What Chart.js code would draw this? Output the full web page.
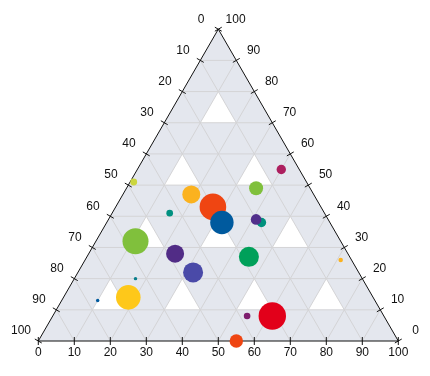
<!DOCTYPE html>
<html>
<head>
<meta charset="utf-8">
<script src="https://cdn.jsdelivr.net/npm/chart.js@4"></script>
<style>
  html, body { margin: 0; padding: 0; background: #fff; }
</style>
</head>
<body>
<canvas id="ternary" width="430" height="376"></canvas>
<script>
// ternary components for each bubble (bottom + right + left = 100)
const bottomVals = [40, 1, 36, 19, 27, 16, 32, 43, 41, 11, 24, 45, 71, 32, 17, 10, 18, 54, 61, 55];
const rightVals  = [55, 51, 49, 47, 43, 41, 38, 38, 39, 32, 28, 27, 26, 22, 20, 13, 14, 8, 8, 0];
const leftVals   = [5, 48, 15, 34, 30, 43, 30, 19, 20, 57, 48, 28, 3, 46, 63, 77, 68, 38, 31, 45];
const sizes      = [22, 12, 49, 81, 177, 11, 137, 22, 28, 169, 81, 100, 5, 100, 3, 3, 151, 11, 188, 45];
const colors = ['#ad1f5f', '#cbd63f', '#80c03c', '#fbb21f', '#ef4512', '#009080', '#005a9e',
  '#00917d', '#512f8b', '#80c03c', '#512c86', '#00a05a', '#fbb21f', '#4a4aa8', '#0a7e8c',
  '#005a9e', '#fec81a', '#7e1e6e', '#e2001a', '#ef4512'];
const tickVals = [0, 10, 20, 30, 40, 50, 60, 70, 80, 90, 100];

const H = Math.sqrt(3) / 2;

// bottom/right -> cartesian
function toXY(bottom, right) {
  return { x: bottom + right / 2, y: right * H };
}

const points = bottomVals.map((b, i) => {
  const p = toXY(b, rightVals[i]);
  return { x: p.x, y: p.y, r: Math.sqrt(sizes[i]), left: leftVals[i] };
});

const ternaryFrame = {
  id: 'ternaryFrame',
  beforeDatasetsDraw(chart) {
    const ctx = chart.ctx;
    const xs = chart.scales.x, ys = chart.scales.y;
    const px = (b, r) => {
      const p = toXY(b, r);
      return [xs.getPixelForValue(p.x), ys.getPixelForValue(p.y)];
    };
    const tri = (pts, fill) => {
      ctx.beginPath();
      ctx.moveTo(pts[0][0], pts[0][1]);
      ctx.lineTo(pts[1][0], pts[1][1]);
      ctx.lineTo(pts[2][0], pts[2][1]);
      ctx.closePath();
      ctx.fillStyle = fill;
      ctx.fill();
    };
    const line = (p1, p2) => {
      ctx.beginPath();
      ctx.moveTo(p1[0], p1[1]);
      ctx.lineTo(p2[0], p2[1]);
      ctx.stroke();
    };

    ctx.save();
    // background
    tri([px(0, 0), px(100, 0), px(0, 100)], '#e4e7ee');

    // white triangles on odd rows
    for (let row = 1; row <= 10; row++) {
      if (row % 2 == 0) continue;
      const b0 = 100 - row * 10;
      for (let j = 1; j < row; j += 2) {
        tri([px(j * 10, b0), px(j * 10 + 10, b0), px(j * 10, b0 + 10)], '#ffffff');
      }
    }

    // grid
    ctx.strokeStyle = '#d4d4d6';
    ctx.lineWidth = 1;
    for (let k = 10; k < 100; k += 10) {
      line(px(0, k), px(100 - k, k));   // right const
      line(px(k, 0), px(k, 100 - k));   // bottom const
      line(px(100 - k, 0), px(0, 100 - k)); // left const
    }

    // frame
    ctx.strokeStyle = '#111';
    ctx.lineWidth = 1;
    const A = px(0, 0), B = px(100, 0), C = px(0, 100);
    line(A, B);
    line(B, C);
    line(C, A);

    // ticks + labels
    ctx.font = '12px "Liberation Sans", Arial, sans-serif';
    ctx.fillStyle = '#111';
    ctx.textAlign = 'center';
    ctx.textBaseline = 'middle';
    const t = 4, d = 20;
    tickVals.forEach(v => {
      // bottom axis
      let p = px(v, 0);
      line([p[0], p[1] - t], [p[0], p[1] + t]);
      ctx.fillText(String(v), p[0], p[1] + 12);
      // left axis (0 at top)
      p = px(0, 100 - v);
      line([p[0] - 0.866 * t, p[1] - 0.5 * t], [p[0] + 0.866 * t, p[1] + 0.5 * t]);
      ctx.fillText(String(v), p[0] - 0.866 * d, p[1] - 0.5 * d);
      // right axis (0 at bottom right)
      p = px(100 - v, v);
      line([p[0] - 0.866 * t, p[1] + 0.5 * t], [p[0] + 0.866 * t, p[1] - 0.5 * t]);
      ctx.fillText(String(v), p[0] + 0.866 * d, p[1] - 0.5 * d);
    });
    ctx.restore();
  }
};

new Chart(document.getElementById('ternary'), {
  type: 'bubble',
  data: {
    datasets: [{
      data: points,
      backgroundColor: colors,
      hoverBackgroundColor: colors,
      borderWidth: 0,
      hoverBorderWidth: 0,
      clip: false
    }]
  },
  options: {
    responsive: false,
    animation: false,
    layout: { padding: { left: 38.3, right: 31.7, top: 29.2, bottom: 35 } },
    scales: {
      x: { type: 'linear', min: 0, max: 100, display: false },
      y: { type: 'linear', min: 0, max: 100 * H, display: false }
    },
    plugins: {
      legend: { display: false },
      tooltip: { enabled: false }
    }
  },
  plugins: [ternaryFrame]
});
</script>
</body>
</html>
